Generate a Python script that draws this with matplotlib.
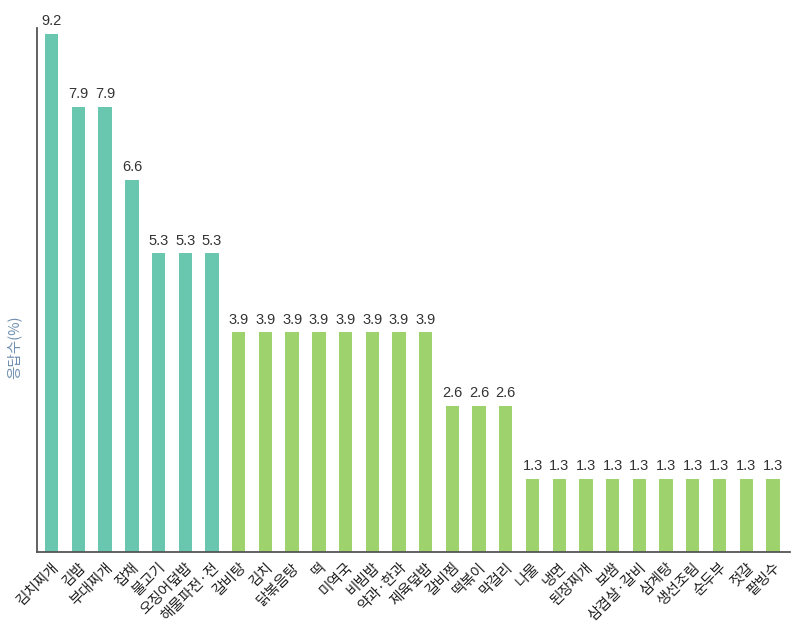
import matplotlib
matplotlib.use("Agg")
import matplotlib.pyplot as plt

plt.rcParams['font.family'] = ['Noto Sans CJK KR', 'DejaVu Sans']

foods = ['김치찌개', '김밥', '부대찌개', '잡채', '불고기', '오징어덮밥', '해물파전·전',
         '갈비탕', '김치', '닭볶음탕', '떡', '미역국', '비빔밥', '약과·한과', '제육덮밥',
         '갈비찜', '떡볶이', '막걸리',
         '나물', '냉면', '된장찌개', '보쌈', '삼겹살·갈비', '삼계탕', '생선조림', '순두부',
         '젓갈', '팥빙수']
values = [9.2, 7.9, 7.9, 6.6, 5.3, 5.3, 5.3,
          3.9, 3.9, 3.9, 3.9, 3.9, 3.9, 3.9, 3.9,
          2.6, 2.6, 2.6,
          1.3, 1.3, 1.3, 1.3, 1.3, 1.3, 1.3, 1.3, 1.3, 1.3]
n_teal = 7

teal = '#68c7ae'
green = '#9dd26c'
colors = [teal if i < n_teal else green for i in range(len(values))]

fig = plt.figure(figsize=(8, 6.36), dpi=100)
ax = fig.add_axes([0.046, 0.132, 0.9415, 0.824])

x = range(len(values))
bars = ax.bar(x, values, width=0.5, color=colors)
for xi, v in zip(x, values):
    ax.text(xi, v + 0.1, f'{v:.1f}', ha='center', va='bottom', fontsize=10.5,
            color='#333333', family=['Liberation Sans'])

ax.set_xlim(-0.56, len(values) - 0.36)
ax.set_ylim(0, 9.3)
ax.set_xticks(list(x))
ax.set_xticklabels(foods, rotation=45, ha='right', rotation_mode='anchor',
                   fontsize=10.5, color='#222222')
ax.tick_params(axis='x', length=0, pad=6)
ax.set_yticks([])
ax.set_ylabel('응답수(%)', color='#6f8fb0', fontsize=10.5)
ax.yaxis.set_label_coords(-0.02, 0.39)

for side in ['top', 'right']:
    ax.spines[side].set_visible(False)
for side in ['left', 'bottom']:
    ax.spines[side].set_color('#555555')
    ax.spines[side].set_linewidth(1.3)

fig.savefig('out.png', dpi=100)
